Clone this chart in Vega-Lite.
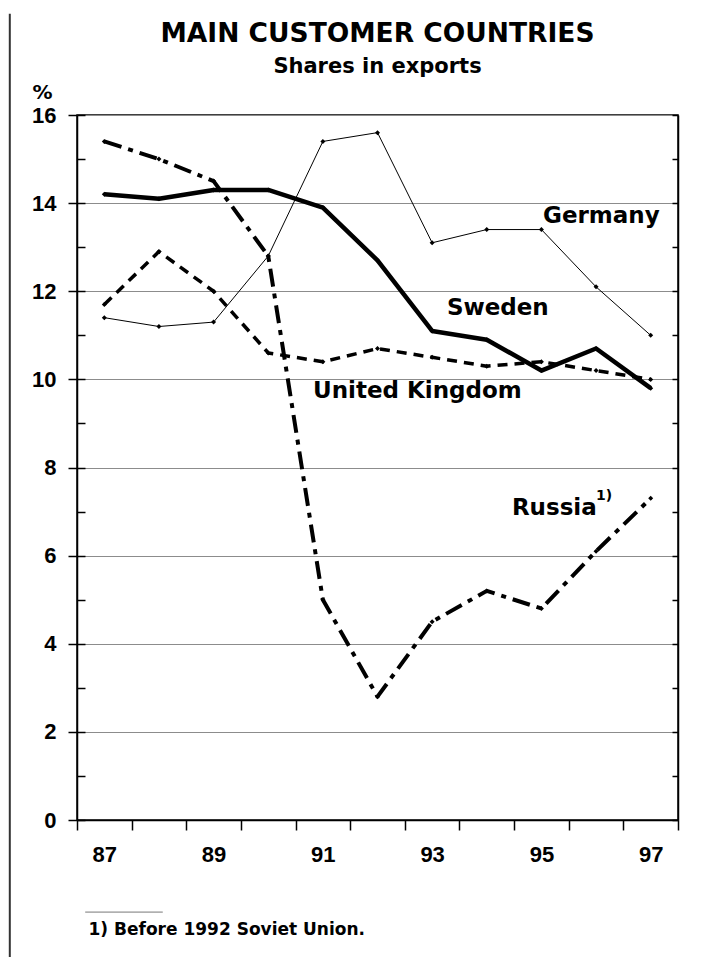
{
  "$schema": "https://vega.github.io/schema/vega-lite/v6.json",
  "width": 601,
  "height": 705,
  "autosize": "none",
  "padding": {"left": 77, "top": 115, "right": 34, "bottom": 137},
  "background": "white",
  "title": {
    "text": "MAIN CUSTOMER COUNTRIES",
    "subtitle": "Shares in exports",
    "font": "DejaVu Sans",
    "fontSize": 26.5,
    "fontWeight": "bold",
    "color": "black",
    "subtitleFont": "DejaVu Sans",
    "subtitleFontSize": 21,
    "subtitleFontWeight": "bold",
    "subtitleColor": "black",
    "subtitlePadding": 8,
    "anchor": "middle",
    "frame": "group",
    "offset": -64
  },
  "datasets": {
    "series": [
      {"c": "Germany", "year": 87, "v": 11.4}, {"c": "Germany", "year": 88, "v": 11.2}, {"c": "Germany", "year": 89, "v": 11.3}, {"c": "Germany", "year": 90, "v": 12.8}, {"c": "Germany", "year": 91, "v": 15.4}, {"c": "Germany", "year": 92, "v": 15.6}, {"c": "Germany", "year": 93, "v": 13.1}, {"c": "Germany", "year": 94, "v": 13.4}, {"c": "Germany", "year": 95, "v": 13.4}, {"c": "Germany", "year": 96, "v": 12.1}, {"c": "Germany", "year": 97, "v": 11.0},
      {"c": "Sweden", "year": 87, "v": 14.2}, {"c": "Sweden", "year": 88, "v": 14.1}, {"c": "Sweden", "year": 89, "v": 14.3}, {"c": "Sweden", "year": 90, "v": 14.3}, {"c": "Sweden", "year": 91, "v": 13.9}, {"c": "Sweden", "year": 92, "v": 12.7}, {"c": "Sweden", "year": 93, "v": 11.1}, {"c": "Sweden", "year": 94, "v": 10.9}, {"c": "Sweden", "year": 95, "v": 10.2}, {"c": "Sweden", "year": 96, "v": 10.7}, {"c": "Sweden", "year": 97, "v": 9.8},
      {"c": "United Kingdom", "year": 87, "v": 11.7}, {"c": "United Kingdom", "year": 88, "v": 12.9}, {"c": "United Kingdom", "year": 89, "v": 12.0}, {"c": "United Kingdom", "year": 90, "v": 10.6}, {"c": "United Kingdom", "year": 91, "v": 10.4}, {"c": "United Kingdom", "year": 92, "v": 10.7}, {"c": "United Kingdom", "year": 93, "v": 10.5}, {"c": "United Kingdom", "year": 94, "v": 10.3}, {"c": "United Kingdom", "year": 95, "v": 10.4}, {"c": "United Kingdom", "year": 96, "v": 10.2}, {"c": "United Kingdom", "year": 97, "v": 10.0},
      {"c": "Russia", "year": 87, "v": 15.4}, {"c": "Russia", "year": 88, "v": 15.0}, {"c": "Russia", "year": 89, "v": 14.5}, {"c": "Russia", "year": 90, "v": 12.8}, {"c": "Russia", "year": 91, "v": 5.0}, {"c": "Russia", "year": 92, "v": 2.8}, {"c": "Russia", "year": 93, "v": 4.5}, {"c": "Russia", "year": 94, "v": 5.2}, {"c": "Russia", "year": 95, "v": 4.8}, {"c": "Russia", "year": 96, "v": 6.1}, {"c": "Russia", "year": 97, "v": 7.3}
    ],
    "labels": [
      {"label": "Germany", "lx": 95.03, "ly": 13.55},
      {"label": "Sweden", "lx": 93.27, "ly": 11.46},
      {"label": "United Kingdom", "lx": 90.82, "ly": 9.58},
      {"label": "Russia", "lx": 94.46, "ly": 6.92}
    ],
    "notes": [
      {"label": "1)", "lx": 96.0, "ly": 7.26}
    ]
  },
  "layer": [
    {
      "data": {"name": "series"},
      "transform": [{"filter": "datum.c == 'Germany'"}],
      "mark": {"type": "line", "strokeCap": "butt", "strokeJoin": "round", "color": "black", "strokeWidth": 1},
      "encoding": {
        "x": {
          "field": "year", "type": "quantitative",
          "scale": {"domain": [86.5, 97.5], "nice": false, "zero": false},
          "axis": {
            "values": [86.5, 87.5, 88.5, 89.5, 90.5, 91.5, 92.5, 93.5, 94.5, 95.5, 96.5, 97.5],
            "labelExpr": "(datum.value - 86.5) % 2 == 0 ? format(datum.value + 0.5, 'd') : ''",
            "labelOffset": 27.3,
            "labelFlush": false,
            "labelOverlap": false,
            "labelFont": "Liberation Sans",
            "labelFontSize": 22,
            "labelFontWeight": "bold",
            "labelColor": "black",
            "labelPadding": 14,
            "tickSize": 10,
            "grid": false,
            "title": "1) Before 1992 Soviet Union.",
            "titleFont": "DejaVu Sans",
            "titleFontSize": 17,
            "titleFontWeight": "bold",
            "titleColor": "black",
            "titleAlign": "left",
            "titleBaseline": "alphabetic",
            "titleX": 11,
            "titleY": 114
          }
        },
        "y": {
          "field": "v", "type": "quantitative",
          "scale": {"domain": [0, 16], "nice": false},
          "axis": {
            "orient": "left",
            "values": [0, 2, 4, 6, 8, 10, 12, 14, 16],
            "labelFont": "Liberation Sans",
            "labelFontSize": 22,
            "labelFontWeight": "bold",
            "labelColor": "black",
            "labelPadding": 12,
            "tickSize": 9,
            "grid": true,
            "gridColor": "#8c8c8c",
            "gridWidth": 1,
            "title": "%",
            "titleFont": "DejaVu Sans",
            "titleFontSize": 20,
            "titleFontWeight": "bold",
            "titleColor": "black",
            "titleAngle": 0,
            "titleAlign": "left",
            "titleBaseline": "alphabetic",
            "titleX": -45,
            "titleY": -17
          }
        }
      }
    },
    {
      "data": {"name": "series"},
      "transform": [{"filter": "datum.c == 'United Kingdom'"}],
      "mark": {"type": "line", "strokeCap": "butt", "strokeJoin": "round", "color": "black", "strokeWidth": 3.5, "strokeDash": [10, 7]},
      "encoding": {
        "x": {"field": "year", "type": "quantitative", "axis": null},
        "y": {"field": "v", "type": "quantitative", "axis": null}
      }
    },
    {
      "data": {"name": "series"},
      "transform": [{"filter": "datum.c == 'Russia'"}],
      "mark": {"type": "line", "strokeCap": "butt", "strokeJoin": "round", "color": "black", "strokeWidth": 4, "strokeDash": [18, 7, 5, 7]},
      "encoding": {
        "x": {"field": "year", "type": "quantitative", "axis": null},
        "y": {"field": "v", "type": "quantitative", "axis": null}
      }
    },
    {
      "data": {"name": "series"},
      "transform": [{"filter": "datum.c == 'Sweden'"}],
      "mark": {"type": "line", "strokeCap": "butt", "strokeJoin": "round", "color": "black", "strokeWidth": 4.5},
      "encoding": {
        "x": {"field": "year", "type": "quantitative", "axis": null},
        "y": {"field": "v", "type": "quantitative", "axis": null}
      }
    },
    {
      "data": {"name": "series"},
      "mark": {"type": "point", "filled": true, "shape": "diamond", "size": 25, "color": "black", "opacity": 1},
      "encoding": {
        "x": {"field": "year", "type": "quantitative", "axis": null},
        "y": {
          "field": "v", "type": "quantitative",
          "axis": {
            "orient": "left",
            "values": [0, 1, 2, 3, 4, 5, 6, 7, 8, 9, 10, 11, 12, 13, 14, 15, 16],
            "labels": false,
            "domain": false,
            "grid": false,
            "tickSize": -8,
            "title": null
          }
        }
      }
    },
    {
      "data": {"name": "labels"},
      "mark": {"type": "text", "font": "DejaVu Sans", "fontSize": 23, "fontWeight": "bold", "color": "black", "align": "left", "baseline": "alphabetic"},
      "encoding": {
        "x": {"field": "lx", "type": "quantitative", "axis": null},
        "y": {
          "field": "ly", "type": "quantitative",
          "axis": {
            "orient": "right",
            "values": [0, 1, 2, 3, 4, 5, 6, 7, 8, 9, 10, 11, 12, 13, 14, 15, 16],
            "labels": false,
            "grid": false,
            "tickSize": -6,
            "title": null
          }
        },
        "text": {"field": "label"}
      }
    },
    {
      "data": {"name": "notes"},
      "mark": {"type": "text", "font": "DejaVu Sans", "fontSize": 14, "fontWeight": "bold", "color": "black", "align": "left", "baseline": "alphabetic"},
      "encoding": {
        "x": {"field": "lx", "type": "quantitative", "axis": null},
        "y": {"field": "ly", "type": "quantitative", "axis": null},
        "text": {"field": "label"}
      }
    },
    {
      "data": {"values": [{}]},
      "mark": {"type": "rule", "color": "#333333", "strokeWidth": 2},
      "encoding": {
        "x": {"datum": 85.27, "type": "quantitative", "axis": null},
        "y": {"datum": 18.3, "type": "quantitative", "axis": null},
        "y2": {"datum": -3.2}
      }
    },
    {
      "data": {"values": [{}]},
      "mark": {"type": "rule", "color": "#777777", "strokeWidth": 1},
      "encoding": {
        "x": {"datum": 86.65, "type": "quantitative", "axis": null},
        "x2": {"datum": 88.07},
        "y": {"datum": -2.09, "type": "quantitative", "axis": null}
      }
    }
  ],
  "resolve": {"axis": {"x": "independent", "y": "independent"}},
  "config": {
    "view": {"stroke": "black", "strokeWidth": 1.5},
    "axis": {"domainColor": "black", "domainWidth": 1.5, "tickColor": "black", "tickWidth": 1.5}
  }
}
